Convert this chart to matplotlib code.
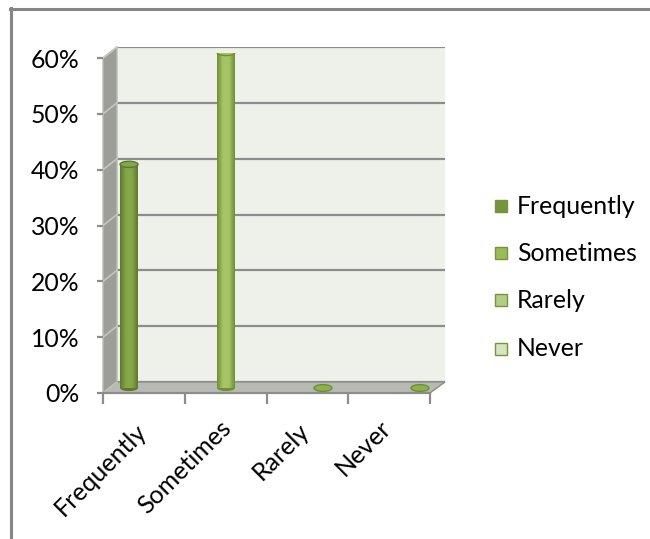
import numpy as np
import matplotlib
matplotlib.use("Agg")
import matplotlib.pyplot as plt
from matplotlib.patches import Polygon, Ellipse, Rectangle
from matplotlib.colors import LinearSegmentedColormap

plt.rcParams['font.family'] = ['Lato', 'DejaVu Sans']

categories = ['Frequently', 'Sometimes', 'Rarely', 'Never']
shares = [0.40, 0.60, 0.0, 0.0]
y_ticks = [0.0, 0.1, 0.2, 0.3, 0.4, 0.5, 0.6]
y_labels = ['0%', '10%', '20%', '30%', '40%', '50%', '60%']

bar_dark = ['#5d7a2c', '#6f8f35', '#6f8f35', '#6f8f35']
bar_light = ['#86a64b', '#a6c466', '#a6c466', '#a6c466']
legend_colors = ['#77933c', '#9bbb59', '#b3cd85', '#d7e4bd']

FS = 17.8
FS_CAT = 18
W, H = 650, 539
fig = plt.figure(figsize=(W / 100, H / 100), dpi=100)


def fx(x):
    return x / W


def fy(y):
    return 1 - y / H


def box(left, top, right, bottom):
    return [fx(left), fy(bottom), fx(right) - fx(left), fy(top) - fy(bottom)]


# outer frame (top and left edges)
fig.add_artist(plt.Line2D([fx(10), fx(650)], [fy(8.5), fy(8.5)], color='#868686', lw=2.2))
fig.add_artist(plt.Line2D([fx(10.5), fx(10.5)], [fy(8), fy(539)], color='#868686', lw=2.2))

# back wall
ax_back = fig.add_axes(box(117, 47, 445, 382))
ax_back.set_facecolor('#eef0ea')
ax_back.set_ylim(0, 0.6)
ax_back.set_xlim(0, 1)
ax_back.set_yticks(y_ticks)
ax_back.grid(axis='y', color='#8c8c8c', lw=1.6)
ax_back.tick_params(length=0, labelleft=False, labelbottom=False)
ax_back.set_xticks([])
for s in ax_back.spines.values():
    s.set_visible(False)

# side wall and floor in figure pixels
side = Polygon([(fx(103), fy(58)), (fx(117), fy(47)), (fx(117), fy(382)), (fx(103), fy(393))],
               closed=True, transform=fig.transFigure, facecolor='#9c9f98',
               edgecolor='#b9bbb5', lw=1)
fig.add_artist(side)
for t in y_ticks:
    yb = 382 - t / 0.6 * 335
    yf = 393 - t / 0.6 * 335
    fig.add_artist(plt.Line2D([fx(103), fx(117)], [fy(yf), fy(yb)], color='#c4c6c0', lw=1.2))
floor = Polygon([(fx(103), fy(393)), (fx(430), fy(393)), (fx(445), fy(382)), (fx(117), fy(382))],
                closed=True, transform=fig.transFigure, facecolor='#b7b9b3',
                edgecolor='#8c8c8c', lw=1)
fig.add_artist(floor)

# front plane: value axis ticks and labels
ax_front = fig.add_axes(box(103, 58, 430, 393))
ax_front.set_zorder(4)
ax_front.patch.set_visible(False)
ax_front.set_ylim(0, 0.6)
ax_front.set_xlim(0, 4)
ax_front.set_yticks(y_ticks)
ax_front.set_yticklabels(y_labels, fontsize=FS)
ax_front.set_xticks([0, 1, 2, 3, 4])
ax_front.set_xticklabels([])
ax_front.tick_params(axis='y', length=4, width=1.6, color='#8c8c8c', pad=13)
ax_front.tick_params(axis='x', length=8, width=1.6, color='#8c8c8c')
for name, s in ax_front.spines.items():
    s.set_visible(name == 'bottom')
ax_front.spines['bottom'].set_color('#8c8c8c')
ax_front.spines['bottom'].set_linewidth(1.6)

# category labels, ending under each category centre
label_ends = [(135, 419), (219, 416), (297, 419), (379, 416)]
for name, (x, y) in zip(categories, label_ends):
    fig.text(fx(x), fy(y), name, rotation=45, ha='right', va='top',
             rotation_mode='anchor', fontsize=FS_CAT)

# cylinders, sitting at mid depth
ax_cyl = fig.add_axes(box(80.5, 52.5, 468.5, 388))
ax_cyl.set_zorder(5)
ax_cyl.set_xlim(-0.5, 3.5)
ax_cyl.set_ylim(0, 0.6)
ax_cyl.axis('off')

width = 0.185
cap = 0.011
xs = np.arange(len(categories))
bars = ax_cyl.bar(xs, shares, width=width, color='none', edgecolor='none')
for i, (b, v) in enumerate(zip(bars, shares)):
    cmap = LinearSegmentedColormap.from_list(
        'cyl%d' % i, [bar_dark[i], bar_light[i], bar_light[i], bar_dark[i]])
    if v > 0:
        grad = np.linspace(0, 1, 64).reshape(1, -1)
        ax_cyl.imshow(grad, cmap=cmap, aspect='auto',
                      extent=(xs[i] - width / 2, xs[i] + width / 2, 0, v),
                      clip_path=b, clip_on=True, zorder=2)
        ax_cyl.add_patch(Ellipse((xs[i], 0), width, cap, facecolor=bar_dark[i],
                                 edgecolor='none', zorder=1.9, clip_on=False))
        ax_cyl.add_patch(Ellipse((xs[i], v), width, cap, facecolor=bar_light[i],
                                 edgecolor=bar_dark[i], lw=1, zorder=3))
    else:
        ax_cyl.add_patch(Ellipse((xs[i], v), width, cap * 1.1, facecolor='#8fb04f',
                                 edgecolor='#6f8f35', lw=1, zorder=3, clip_on=False))
ax_cyl.set_xlim(-0.5, 3.5)
ax_cyl.set_ylim(0, 0.6)

# legend
legend_y = [206, 253, 300, 349]
for name, c, y in zip(categories, legend_colors, legend_y):
    fig.add_artist(Rectangle((fx(495), fy(y + 6)), fx(12), 12 / H, transform=fig.transFigure,
                             facecolor=c, edgecolor='#77933c', lw=1))
    fig.text(fx(517), fy(y), name, ha='left', va='center', fontsize=FS)

fig.savefig('out.png', dpi=100)
